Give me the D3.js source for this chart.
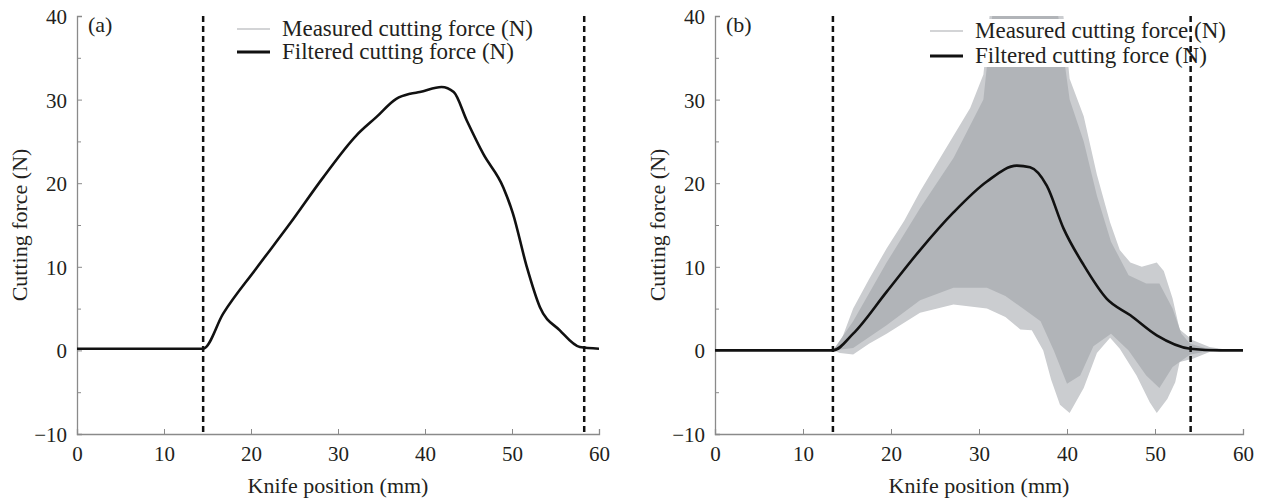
<!DOCTYPE html>
<meta charset="utf-8" />
<html>
  <head>
    <script src="https://d3js.org/d3.v7.min.js"></script>
    <style>
      body {
        margin: 0;
        background: white;
      }
      text {
        font-family: "Liberation Serif", serif;
        fill: #231f20;
      }
    </style>
  </head>
  <body>
    <div id="chart"></div>
  </body>
  <script>
    // tick values
    const xTicks = [0, 10, 20, 30, 40, 50, 60];
    const yTicks = [-10, 0, 10, 20, 30, 40];
    const yMinorTicks = [-5, 5, 15, 25, 35];

    const legendLabels = ["Measured cutting force (N)", "Filtered cutting force (N)"];

    // panel (a): filtered cutting force
    const aX = [0, 5, 10, 14.5, 16.8, 20.6, 24.5, 28.3, 32.1, 34.4, 36.7, 38.3, 39.4, 41.9, 43.3, 44.8, 46.7, 49.0, 50.1, 51.7, 53.2, 55.5, 57.8, 60];
    const aY = [0.2, 0.2, 0.2, 0.2, 4.4, 9.8, 15.2, 20.7, 25.7, 27.9, 30.1, 30.7, 30.9, 31.5, 30.9, 27.5, 23.5, 19.5, 16.4, 10.0, 5.2, 2.4, 0.4, 0.2];
    const aMarkers = [14.5, 58.3];

    // panel (b): filtered cutting force
    const bX = [0, 5, 10, 13.4, 15.7, 19.5, 23.3, 27.1, 30.9, 34.3, 35.8, 37.7, 39.6, 41.9, 44.5, 47.2, 50.2, 54.0, 57.4, 60];
    const bY = [0, 0, 0, 0, 2.0, 7.0, 12.0, 16.5, 20.2, 22.1, 21.9, 19.7, 14.6, 10.2, 6.2, 4.2, 1.8, 0.2, 0, 0];
    const bMarkers = [13.4, 54.05];

    // panel (b): measured force, outer envelope of the spikes
    const outerX = [13.4, 14.2, 15.7, 17.5, 19.5, 21.5, 23.3, 25, 27, 29, 30.5, 31.3, 39.5, 40.3, 41.9, 43.4, 44.9, 46, 47.2, 48.5, 50.2, 51, 52, 52.8, 54.3, 56.2, 58, 60];
    const outerHi = [0, 0.8, 5, 8.5, 12.2, 15.5, 19, 22, 25.5, 29, 33, 41, 41, 32.5, 28, 21, 15.3, 12, 10.5, 10, 10.5, 9.5, 6.2, 2.5, 1.2, 0.4, 0.1, 0];
    const outerLoX = [13.4, 14.2, 15.7, 17.5, 19.5, 23.3, 27.1, 30.9, 33, 34.7, 36, 37.3, 38.2, 39.2, 40.3, 41.9, 43.4, 44.9, 46, 47.9, 49.4, 50.2, 51.4, 52.3, 52.8, 54.3, 56.2, 58, 60];
    const outerLo = [0, -0.3, -0.5, 0.8, 2, 4.5, 5.5, 5, 4, 2.5, 2.4, 0, -3.5, -6.5, -7.5, -4.5, -0.3, 1.5, 0.2, -3, -6.2, -7.5, -5.8, -3.8, -1.4, -1, -0.2, 0, 0];

    // panel (b): measured force, dense core of the spikes
    const innerX = [13.4, 15.7, 19.5, 23.3, 27.1, 30.5, 31.5, 39, 40.3, 41.9, 43.4, 45, 47, 49, 50.5, 52, 53, 54, 56, 58, 60];
    const innerHi = [0, 3.5, 10.5, 17, 23, 30, 40, 40, 30, 25, 18.5, 13, 9, 8, 8, 5, 2, 0.8, 0.2, 0, 0];
    const innerLoX = [13.4, 15.7, 19.5, 23.3, 27.1, 30.9, 33, 35, 37, 38.5, 40, 41.5, 43, 45, 47, 49, 50.5, 52, 54, 56, 58, 60];
    const innerLo = [0, 0.3, 3, 6, 7.5, 7.5, 6.5, 5, 3.5, 0, -4, -3, 0.5, 2, 0, -3, -4.5, -2, -0.5, -0.1, 0, 0];

    const width = 1265, height = 501;
    const plotTop = 16, plotBottom = 434;

    const svg = d3.select("#chart").append("svg")
      .attr("width", width)
      .attr("height", height);

    const zip = (xs, ys) => xs.map((x, i) => [x, ys[i]]);

    // envelope as a polygon: upper side left to right, lower side back
    const bandPoints = (xh, yh, xl, yl) =>
      zip(xh, yh).concat(zip(xl, yl).reverse());

    const drawPanel = (opts) => {
      const x = d3.scaleLinear().domain([0, 60]).range([opts.left, opts.right]);
      const y = d3.scaleLinear().domain([-10, 40]).range([plotBottom, plotTop]);
      const g = svg.append("g");

      const clipId = "clip" + opts.name;
      g.append("clipPath").attr("id", clipId)
        .append("rect")
          .attr("x", opts.left).attr("y", plotTop)
          .attr("width", opts.right - opts.left).attr("height", plotBottom - plotTop);

      const line = d3.line()
        .x(d => x(d[0]))
        .y(d => y(d[1]))
        .curve(d3.curveMonotoneX);

      const poly = d3.line()
        .x(d => x(d[0]))
        .y(d => y(d[1]))
        .curve(d3.curveLinearClosed);

      if (opts.bands) {
        const bg = g.append("g").attr("clip-path", `url(#${clipId})`);
        bg.append("path")
          .attr("d", poly(bandPoints(outerX, outerHi, outerLoX, outerLo)))
          .attr("fill", "#cbcdd0");
        bg.append("path")
          .attr("d", poly(bandPoints(innerX, innerHi, innerLoX, innerLo)))
          .attr("fill", "#b1b4b8");
      }

      // axes
      const xAxis = d3.axisBottom(x).tickValues(xTicks).tickSize(-5).tickPadding(12);
      const yAxis = d3.axisLeft(y).tickValues(yTicks).tickSize(-5).tickPadding(10)
        .tickFormat(d => d < 0 ? "\u2212" + Math.abs(d) : d);

      g.append("g")
        .attr("transform", `translate(0,${plotBottom})`)
        .call(xAxis);
      const gy = g.append("g")
        .attr("transform", `translate(${opts.left},0)`)
        .call(yAxis);

      g.append("g")
        .attr("transform", `translate(${opts.left},0)`)
        .call(d3.axisLeft(y).tickValues(yMinorTicks).tickSize(-4).tickFormat(""))
        .call(a => a.select(".domain").remove());

      g.selectAll(".domain").attr("stroke", "#8a8a8a").attr("stroke-width", 1.3);
      g.selectAll(".tick line").attr("stroke", "#8a8a8a").attr("stroke-width", 1);
      g.selectAll(".tick text")
        .style("font-family", "'Liberation Serif', serif")
        .style("font-size", "21px")
        .attr("fill", "#231f20");
      gy.selectAll(".tick text").attr("dy", "0.36em");

      // filtered curve
      g.append("path")
        .attr("d", line(zip(opts.fx, opts.fy)))
        .attr("fill", "none")
        .attr("stroke", "#111")
        .attr("stroke-width", 2.6)
        .attr("clip-path", `url(#${clipId})`);

      // legend
      const lg = g.append("g");
      if (opts.bands) {
        lg.append("rect")
          .attr("x", opts.legX - 8).attr("y", 19)
          .attr("width", 312).attr("height", 48)
          .attr("fill", "white");
      }
      legendLabels.forEach((t, i) => {
        const ly = opts.legY + i * opts.legGap;
        lg.append("line")
          .attr("x1", opts.legX).attr("x2", opts.legX + 33)
          .attr("y1", ly).attr("y2", ly)
          .attr("stroke", i === 0 ? "#c4c6c8" : "#111")
          .attr("stroke-width", i === 0 ? 1.5 : 3);
        lg.append("text")
          .attr("x", opts.legX + 45)
          .attr("y", ly + 7)
          .style("font-size", "23px")
          .text(t);
      });

      // boundary markers
      g.selectAll(".marker")
        .data(opts.markers)
        .join("line")
          .attr("x1", d => x(d)).attr("x2", d => x(d))
          .attr("y1", plotTop).attr("y2", plotBottom)
          .attr("stroke", "#111")
          .attr("stroke-width", 2.5)
          .attr("stroke-dasharray", "6,4");

      g.append("text")
        .attr("x", opts.left + 11)
        .attr("y", 32)
        .style("font-size", "22px")
        .text(opts.label);

      g.append("text")
        .attr("x", (opts.left + opts.right) / 2)
        .attr("y", 493)
        .attr("text-anchor", "middle")
        .style("font-size", "22px")
        .text("Knife position (mm)");

      g.append("text")
        .attr("transform", `translate(${opts.left - 50},${y(15)}) rotate(-90)`)
        .attr("text-anchor", "middle")
        .style("font-size", "22px")
        .text("Cutting force (N)");
    };

    drawPanel({
      name: "a", left: 77, right: 599, label: "(a)",
      fx: aX, fy: aY, markers: aMarkers, bands: false,
      legX: 237, legY: 29, legGap: 23
    });

    drawPanel({
      name: "b", left: 715, right: 1243, label: "(b)",
      fx: bX, fy: bY, markers: bMarkers, bands: true,
      legX: 930, legY: 31, legGap: 25
    });
  </script>
</html>
